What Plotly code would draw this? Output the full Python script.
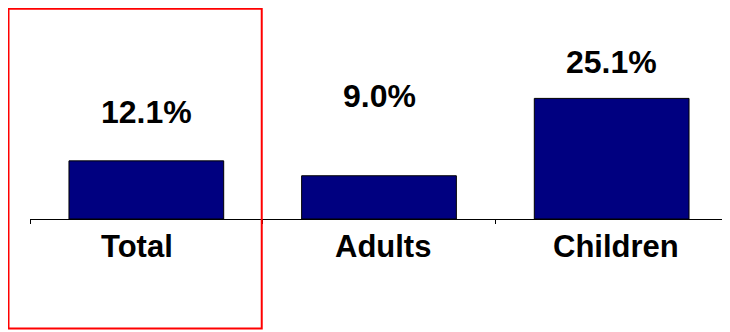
import plotly.graph_objects as go

categories = ["Total", "Adults", "Children"]
values = [12.1, 9.0, 25.1]
value_labels = ["12.1%", "9.0%", "25.1%"]

label_shift = [29, 60, 16]      # pixel offsets of value labels above bars
cat_xshift = [-9, 4, 4]         # pixel offsets of category labels

VFONT = dict(family="Liberation Sans, Arial", size=32, color="black", weight="bold")
CFONT = dict(family="Liberation Sans, Arial", size=31, color="black", weight="bold")

fig = go.Figure()
fig.add_trace(go.Bar(
    x=categories, y=values,
    marker=dict(color="#000080", line=dict(color="black", width=1)),
    width=0.665,
    hoverinfo="skip",
))

for c, v, t, s in zip(categories, values, value_labels, label_shift):
    fig.add_annotation(x=c, y=v, text=t, showarrow=False, yanchor="bottom",
                       yshift=s, font=VFONT)

for c, dx in zip(categories, cat_xshift):
    fig.add_annotation(x=c, y=0, yref="paper", text=c, showarrow=False,
                       yanchor="middle", yshift=-27, xshift=dx, font=CFONT)

fig.add_shape(type="rect", xref="paper", yref="paper",
              x0=-0.0308, x1=0.332, y0=-0.524, y1=1.0063,
              line=dict(color="red", width=2))

fig.update_layout(
    width=722, height=324,
    margin=dict(l=22, r=2, t=2, b=113),
    plot_bgcolor="white", paper_bgcolor="white",
    showlegend=False,
    xaxis=dict(
        type="category", range=[-0.5, 2.5], showline=True, linecolor="black",
        linewidth=1, ticks="outside", tickson="boundaries", ticklen=4,
        tickcolor="black", showgrid=False, showticklabels=False,
    ),
    yaxis=dict(range=[0, 43.5], visible=False, showgrid=False, zeroline=False),
)

fig.write_html("out.html")
